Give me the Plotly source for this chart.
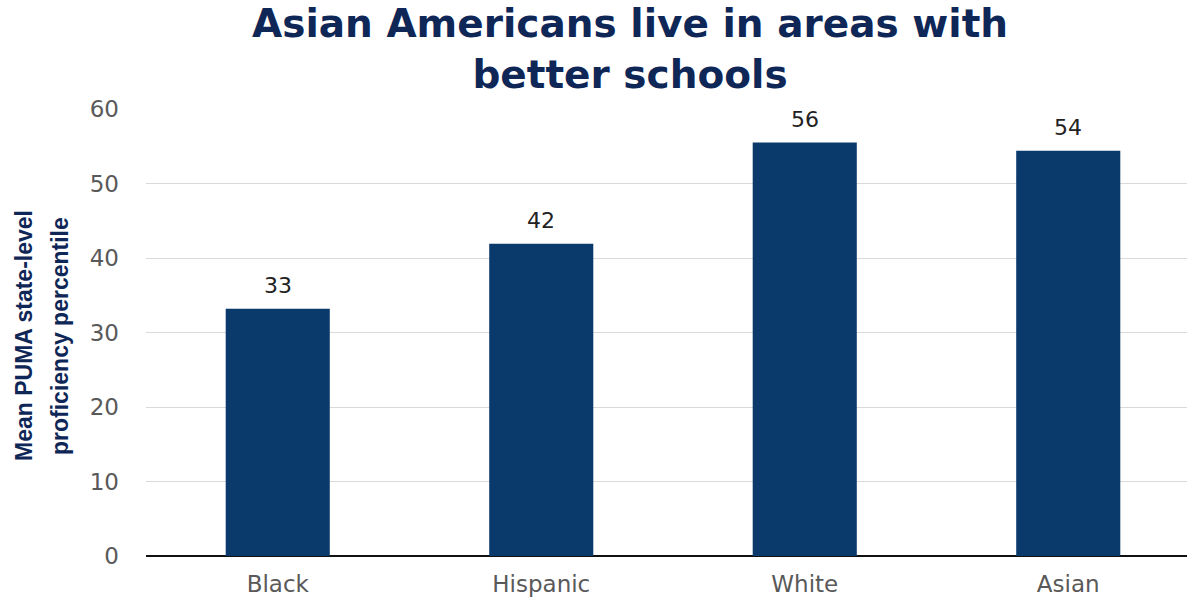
import plotly.graph_objects as go

categories = ["Black", "Hispanic", "White", "Asian"]
values = [33.2, 41.9, 55.5, 54.4]
labels = ["33", "42", "56", "54"]
y_ticks = [0, 10, 20, 30, 40, 50, 60]
title_lines = ["Asian Americans live in areas with", "better schools"]
ytitle_lines = ["Mean PUMA state-level", "proficiency percentile"]

W, H = 1187, 597
left, right_edge = 146, 1187
top, bottom = 109, 558
NAVY = "#0f2757"


def px_x(px):
    return (px - left) / (right_edge - left)


def px_y(py):
    return (bottom - py) / (bottom - top)


fig = go.Figure(go.Bar(
    x=categories, y=values,
    marker=dict(color="#0a3a6b", line=dict(width=0)),
    width=0.395,
))

annotations = []
for c, v, t in zip(categories, values, labels):
    annotations.append(dict(
        x=c, y=v, xref="x", yref="y", text=t, showarrow=False,
        yanchor="bottom", yshift=9,
        font=dict(family="DejaVu Sans", size=22, color="#222222"),
    ))

annotations.append(dict(
    x=px_x(630), xref="paper", y=px_y(49), yref="paper",
    xanchor="center", yanchor="middle", showarrow=False,
    text="<br>".join("<b>" + s + "</b>" for s in title_lines),
    font=dict(family="DejaVu Sans", size=39, color=NAVY),
))

for line, px in zip(ytitle_lines, [24, 60]):
    annotations.append(dict(
        x=px_x(px), xref="paper", y=px_y(337), yref="paper",
        xanchor="center", yanchor="middle", showarrow=False, textangle=-90,
        text="<b>" + line + "</b>",
        font=dict(family="Liberation Sans", size=23, color=NAVY),
    ))

fig.update_layout(
    width=W, height=H,
    margin=dict(l=left, r=W - right_edge, t=top, b=H - bottom),
    plot_bgcolor="white", paper_bgcolor="white",
    showlegend=False,
    xaxis=dict(
        range=[-0.5, -0.5 + (right_edge - left) / 263.5],
        showgrid=False, showline=False, zeroline=False, ticks="",
        tickfont=dict(family="DejaVu Sans", size=23, color="#595959"),
        ticklabelstandoff=12,
    ),
    yaxis=dict(
        range=[0, 60], tickvals=y_ticks,
        showgrid=True, gridcolor="#d9d9d9", gridwidth=1.2,
        zeroline=True, zerolinecolor="#111111", zerolinewidth=2,
        showline=False, ticks="",
        tickfont=dict(family="DejaVu Sans", size=23, color="#595959"),
        ticklabelstandoff=26,
    ),
    annotations=annotations,
)

fig.write_html("out.html", config={"displayModeBar": False},
               post_script="document.body.style.margin='0';")
